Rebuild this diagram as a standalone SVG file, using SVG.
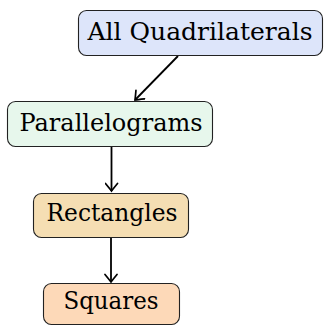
<svg xmlns="http://www.w3.org/2000/svg" width="324" height="326" viewBox="0 0 324 326">
<defs>
<style>
.box{stroke:#222;stroke-width:1.1}
.lbl{font-family:"DejaVu Serif",serif;font-size:25px;fill:#000;text-anchor:middle}
.edge{stroke:#000;stroke-width:1.8;fill:none}
</style>
<marker id="arr" viewBox="-9 -7 11 14" markerWidth="11" markerHeight="14" refX="0" refY="0" orient="auto" markerUnits="userSpaceOnUse">
<path d="M -7.5 -6 Q -2 -1.5 0 0 Q -2 1.5 -7.5 6" fill="none" stroke="#000" stroke-width="1.7" stroke-linecap="round"/>
</marker>
</defs>
<rect width="324" height="326" fill="#fff"/>
<g id="connectors">
<line class="edge" x1="178" y1="56" x2="135" y2="100" marker-end="url(#arr)"/>
<line class="edge" x1="111.5" y1="146" x2="111.5" y2="191" marker-end="url(#arr)"/>
<line class="edge" x1="111" y1="237" x2="111" y2="282" marker-end="url(#arr)"/>
</g>
<g id="all-quadrilaterals">
<rect class="box" x="78.5" y="10.5" width="244" height="45" rx="8" fill="#dde5fa"/>
<text class="lbl" x="200" y="40" textLength="225" lengthAdjust="spacingAndGlyphs">All Quadrilaterals</text>
</g>
<g id="parallelograms">
<rect class="box" x="7.5" y="101.5" width="205" height="45" rx="8" fill="#e7f7ec"/>
<text class="lbl" x="111" y="131" textLength="183" lengthAdjust="spacingAndGlyphs">Parallelograms</text>
</g>
<g id="rectangles">
<rect class="box" x="33.5" y="193.5" width="155" height="44" rx="8" fill="#f5deb3"/>
<text class="lbl" x="112" y="221" textLength="131" lengthAdjust="spacingAndGlyphs">Rectangles</text>
</g>
<g id="squares">
<rect class="box" x="43.5" y="283.5" width="136" height="41" rx="8" fill="#fdd9b8"/>
<text class="lbl" x="111" y="309" textLength="95" lengthAdjust="spacingAndGlyphs">Squares</text>
</g>
</svg>
